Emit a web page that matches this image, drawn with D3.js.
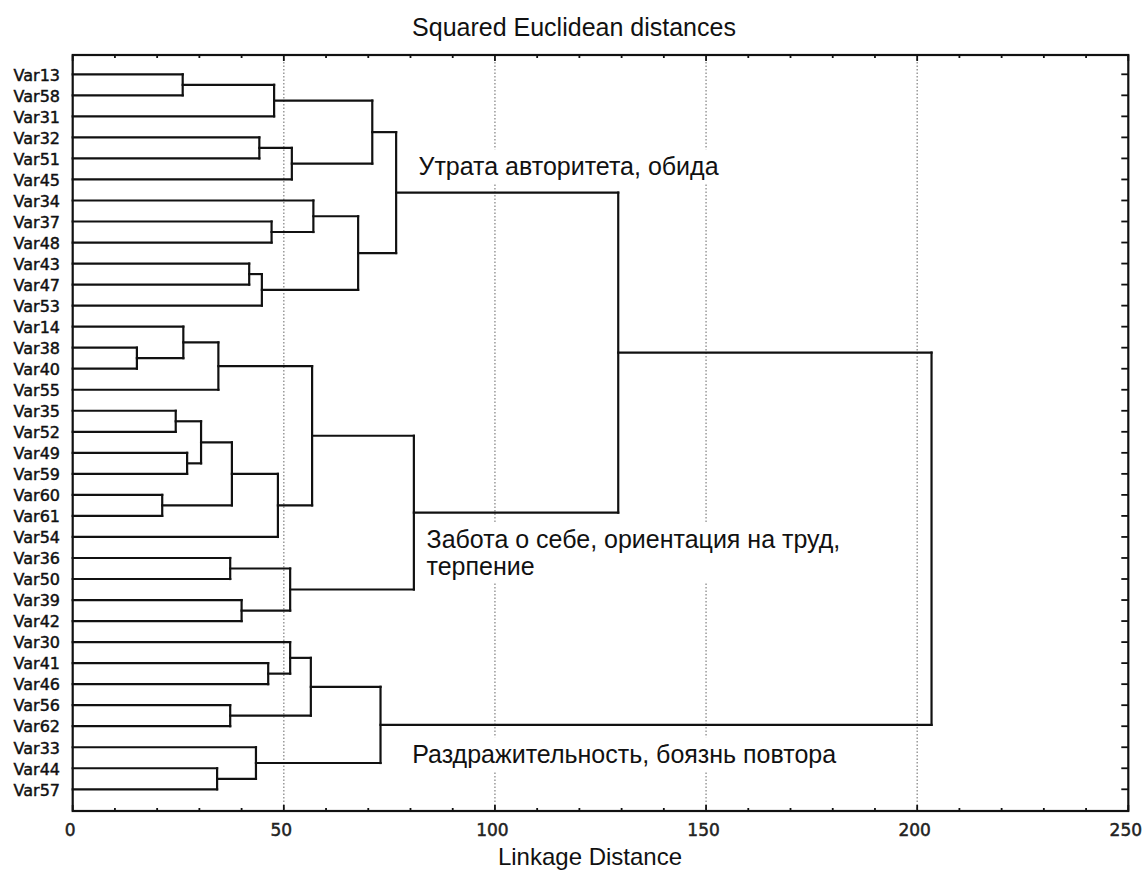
<!DOCTYPE html>
<html>
<head>
<meta charset="utf-8">
<script src="https://cdn.jsdelivr.net/npm/d3@7/dist/d3.min.js"></script>
<style>
  html, body { margin: 0; padding: 0; background: #fff; }
  svg { display: block; }
</style>
</head>
<body>
<svg id="chart" width="1142" height="872"></svg>
<script>
// ---------------- DATA ----------------
const leaves = ["Var13","Var58","Var31","Var32","Var51","Var45","Var34","Var37","Var48",
  "Var43","Var47","Var53","Var14","Var38","Var40","Var55","Var35","Var52","Var49","Var59",
  "Var60","Var61","Var54","Var36","Var50","Var39","Var42","Var30","Var41","Var46","Var56",
  "Var62","Var33","Var44","Var57"];

// merges (m0 ... m33): left child, right child, linkage distance
const mergeLeft  = ["Var13","m0","Var32","m2","m1","Var37","Var34","Var43","m7","m6","m4",
  "Var38","Var14","m12","Var35","Var49","m14","Var60","m16","m18","m13","Var36","Var39","m21",
  "m20","m10","Var41","Var30","Var56","m27","Var44","Var33","m29","m25"];
const mergeRight = ["Var58","Var31","Var51","Var45","m3","Var48","m5","Var47","Var53","m8","m9",
  "Var40","m11","Var55","Var52","Var59","m15","Var61","m17","Var54","m19","Var50","Var42","m22",
  "m23","m24","Var46","m26","Var62","m28","Var57","m30","m31","m32"];
const mergeHeight = [26.05,47.7,44.2,51.9,70.95,47.1,57.0,41.8,44.8,67.6,76.6,
  15.2,26.2,34.5,24.4,27.1,30.4,21.2,37.7,48.6,56.7,37.3,40.0,51.5,
  80.8,129.2,46.3,51.5,37.3,56.4,34.2,43.4,72.9,203.4];

const xTicks = [0, 50, 100, 150, 200, 250];
const xMinorTicks = d3.range(0, 251, 10);
const xDomain = [0, 250];

const titleText = "Squared Euclidean distances";
const xAxisTitle = "Linkage Distance";
const clusterLabels = [
  ["Утрата авторитета, обида"],
  ["Забота о себе, ориентация на труд,", "терпение"],
  ["Раздражительность, боязнь повтора"]
];

// ---------------- LAYOUT ----------------
const plot = { left: 72.7, right: 1128.3, top: 55, bottom: 811 };
const svg = d3.select("#chart");

const x = d3.scaleLinear().domain(xDomain).range([plot.left, plot.right]);
const y = d3.scalePoint().domain(leaves).range([74.3, 789.3]);

// gridlines (dotted) at major ticks except ends
const gGrid = svg.append("g");
gGrid.selectAll("line").data(xTicks.filter(t => t > 0 && t < 250)).join("line")
  .attr("x1", d => x(d)).attr("x2", d => x(d))
  .attr("y1", plot.top).attr("y2", plot.bottom)
  .attr("stroke", "#8a8a8a").attr("stroke-width", 1.3)
  .attr("stroke-dasharray", "1.5,2");

// cluster annotation labels (with white background boxes that hide the grid)
const annPos = [
  { x: x(81.9), y: y("Var45") - 4 },
  { x: x(83.8), y: y("Var54") + 11 },
  { x: x(80.4), y: y("Var33") + 16 }
];
const gAnn = svg.append("g");
clusterLabels.forEach((lines, i) => {
  const g = gAnn.append("g");
  const t = g.append("text")
    .attr("x", annPos[i].x).attr("y", annPos[i].y)
    .attr("font-family", "'Liberation Sans', Arial, sans-serif")
    .attr("font-size", 25).attr("fill", "#111");
  lines.forEach((ln, j) => {
    t.append("tspan").attr("x", annPos[i].x).attr("dy", j === 0 ? 0 : 27).text(ln);
  });
  const bb = t.node().getBBox();
  g.insert("rect", "text")
    .attr("x", bb.x - 5).attr("y", bb.y - 3)
    .attr("width", bb.width + 10).attr("height", bb.height + 6)
    .attr("fill", "#fff");
});

// ---------------- DENDROGRAM ----------------
const pos = {};
leaves.forEach(l => { pos[l] = { h: 0, y: y(l) }; });
const segs = [];
mergeHeight.forEach((h, i) => {
  const a = pos[mergeLeft[i]], b = pos[mergeRight[i]];
  segs.push([a.h, a.y, h, a.y]);
  segs.push([b.h, b.y, h, b.y]);
  segs.push([h, a.y, h, b.y]);
  pos["m" + i] = { h: h, y: (a.y + b.y) / 2 };
});
svg.append("g").selectAll("line").data(segs).join("line")
  .attr("x1", d => x(d[0])).attr("y1", d => d[1])
  .attr("x2", d => x(d[2])).attr("y2", d => d[3])
  .attr("stroke", "#111").attr("stroke-width", 2.2)
  .attr("stroke-linecap", "square");

// ---------------- AXES / FRAME ----------------
svg.append("rect")
  .attr("x", plot.left).attr("y", plot.top)
  .attr("width", plot.right - plot.left).attr("height", plot.bottom - plot.top)
  .attr("fill", "none").attr("stroke", "#111").attr("stroke-width", 2.2);

const gTicks = svg.append("g").attr("stroke", "#111").attr("stroke-width", 1.8);
xMinorTicks.forEach(t => {
  const len = t % 50 === 0 ? 6 : 3;
  gTicks.append("line").attr("x1", x(t)).attr("x2", x(t))
    .attr("y1", plot.top).attr("y2", plot.top + len);
  gTicks.append("line").attr("x1", x(t)).attr("x2", x(t))
    .attr("y1", plot.bottom).attr("y2", plot.bottom - len);
});
leaves.forEach(l => {
  gTicks.append("line").attr("x1", plot.right).attr("x2", plot.right - 7)
    .attr("y1", y(l)).attr("y2", y(l));
});

// bottom axis tick labels via d3 axis
const axisB = d3.axisBottom(x).tickValues(xTicks).tickSize(0).tickPadding(0);
const gAx = svg.append("g").attr("transform", `translate(-3,${plot.bottom})`).call(axisB);
gAx.select(".domain").remove();
gAx.selectAll("text")
  .attr("y", 25)
  .attr("dy", 0)
  .attr("font-family", "'DejaVu Sans', sans-serif")
  .attr("font-size", 17).attr("fill", "#222")
  .attr("stroke", "#222").attr("stroke-width", 0.5);

// leaf labels via d3 axis
const axisL = d3.axisLeft(y).tickSize(0).tickPadding(0);
const gL = svg.append("g").attr("transform", `translate(60,0)`).call(axisL);
gL.select(".domain").remove();
gL.selectAll("text")
  .attr("dy", "0.36em")
  .attr("font-family", "'DejaVu Sans', sans-serif")
  .attr("font-size", 16).attr("fill", "#111")
  .attr("stroke", "#111").attr("stroke-width", 0.45);

// titles
svg.append("text").attr("x", 574).attr("y", 36).attr("text-anchor", "middle")
  .attr("font-family", "'Liberation Sans', Arial, sans-serif")
  .attr("font-size", 25).attr("fill", "#111").text(titleText);
svg.append("text").attr("x", 590).attr("y", 865).attr("text-anchor", "middle")
  .attr("font-family", "'Liberation Sans', Arial, sans-serif")
  .attr("font-size", 24).attr("fill", "#111").text(xAxisTitle);
</script>
</body>
</html>
